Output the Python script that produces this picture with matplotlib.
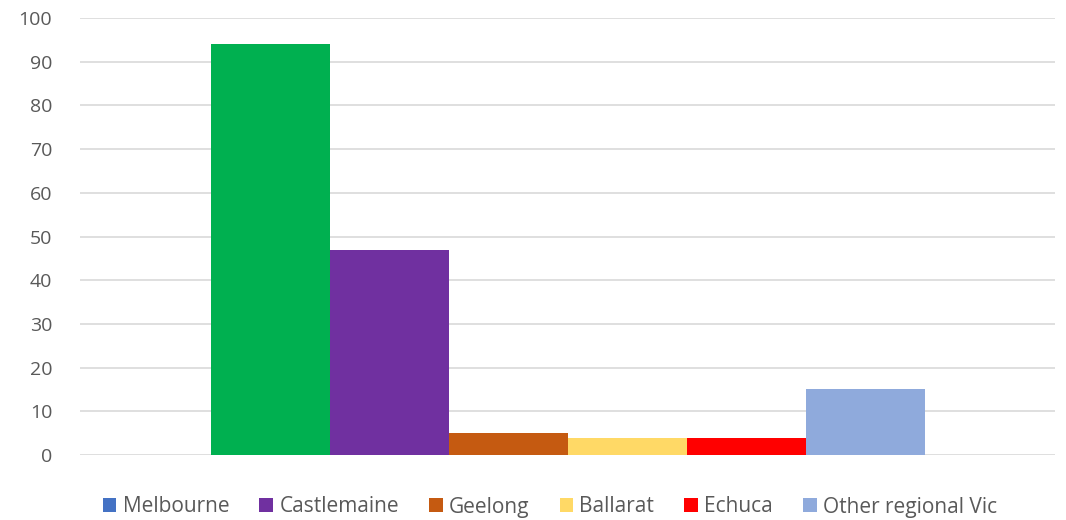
import matplotlib
matplotlib.use("Agg")
import matplotlib.pyplot as plt
from matplotlib.patches import Patch

series = ["Melbourne", "Castlemaine", "Geelong", "Ballarat", "Echuca", "Other regional Vic"]
values = [94, 47, 5, 4, 4, 15]
legend_colors = ["#4472C4", "#7030A0", "#C55A11", "#FFD966", "#FF0000", "#8FAADC"]
bar_colors = ["#00B050", "#7030A0", "#C55A11", "#FFD966", "#FF0000", "#8FAADC"]
yticks = [0, 10, 20, 30, 40, 50, 60, 70, 80, 90, 100]

plt.rcParams['font.family'] = ['Open Sans', 'DejaVu Sans']

fig = plt.figure(figsize=(10.66, 5.2), dpi=100)
ax = fig.add_axes([80/1066, 65/520, 975/1066, 437/520])

n = len(series)
w = 119/975
start = -n * w / 2
for i, (s, v, c) in enumerate(zip(series, values, bar_colors)):
    ax.bar(start + (i + 0.5) * w, v, width=w, color=c, zorder=3, linewidth=0)

ax.set_xlim(-0.5, 0.5)
ax.set_ylim(0, 100)
ax.set_yticks(yticks)
ax.set_xticks([])
ax.grid(axis='y', color='#d9d9d9', linewidth=1.2, zorder=0)
for sp in ax.spines.values():
    sp.set_visible(False)
ax.tick_params(axis='y', length=0, pad=20, labelsize=14, labelcolor='#595959')

handles = [Patch(facecolor=c, edgecolor='none', label=s) for s, c in zip(series, legend_colors)]
leg = fig.legend(handles=handles, loc='center', bbox_to_anchor=(550/1066, 1 - 507/520),
                 ncol=n, frameon=False, fontsize=15, handlelength=0.65, handleheight=0.65,
                 handletextpad=0.3, columnspacing=1.45, borderaxespad=0)
for t in leg.get_texts():
    t.set_color('#595959')

fig.savefig("out.png", dpi=100)
